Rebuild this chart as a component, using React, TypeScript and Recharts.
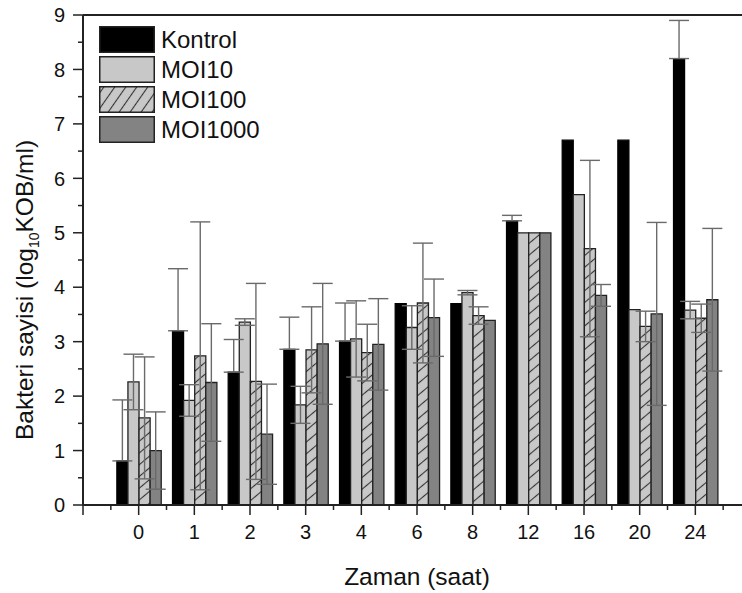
import { BarChart, Bar, XAxis, YAxis, ErrorBar, ReferenceLine, Legend } from 'recharts'

// sampling times (saat)
const times = ['0', '1', '2', '3', '4', '6', '8', '12', '16', '20', '24']

const kontrol = [0.81, 3.2, 2.44, 2.86, 3.01, 3.7, 3.7, 5.22, 6.7, 6.7, 8.2]
const kontrolErr = [1.12, 1.14, 0.6, 0.59, 0.7, 0, 0, 0.1, 0, 0, 0.7]

const moi10 = [2.26, 1.92, 3.36, 1.84, 3.05, 3.26, 3.9, 5.0, 5.7, 3.59, 3.58]
const moi10Err = [0.51, 0.29, 0.06, 0.34, 0.7, 0.4, 0.04, 0, 0, 0, 0.16]

const moi100 = [1.6, 2.74, 2.27, 2.85, 2.8, 3.71, 3.48, 5.0, 4.71, 3.28, 3.43]
const moi100Err = [1.12, 2.46, 1.8, 0.79, 0.52, 1.1, 0.16, 0, 1.62, 0.28, 0.26]

const moi1000 = [1.0, 2.25, 1.3, 2.96, 2.95, 3.44, 3.39, 5.0, 3.85, 3.51, 3.77]
const moi1000Err = [0.71, 1.08, 0.92, 1.11, 0.84, 0.71, 0, 0, 0.2, 1.68, 1.31]

const yTicks = [0, 0.5, 1, 1.5, 2, 2.5, 3, 3.5, 4, 4.5, 5, 5.5, 6, 6.5, 7, 7.5, 8, 8.5, 9]

const FONT = '"Liberation Sans", Arial, Helvetica, sans-serif'
const CHART_W = 760
const CHART_H = 593
const MARGIN = { top: 15, right: 9, left: 0, bottom: 0 }
const Y_AXIS_W = 83
const X_AXIS_H = 88
const PLOT_W = CHART_W - MARGIN.left - MARGIN.right - Y_AXIS_W
// origin style axis runs one step past the first and last group
const STEP = PLOT_W / (times.length + 1)

const LIGHT = '#c8c8c8'
const MID = '#838383'
const EDGE = '#222'
const ERR = '#6a6a6a'

const data = times.map((t, i) => ({
  time: t,
  kontrol: kontrol[i],
  // control only shows the upper half of its error bar
  kontrolErr: kontrolErr[i] ? [0, kontrolErr[i]] : 0,
  moi10: moi10[i],
  moi10Err: moi10Err[i],
  moi100: moi100[i],
  moi100Err: moi100Err[i],
  moi1000: moi1000[i],
  moi1000Err: moi1000Err[i],
}))

const legendItems = [
  { name: 'Kontrol', fill: '#000' },
  { name: 'MOI10', fill: LIGHT },
  { name: 'MOI100', fill: 'url(#hatchLegend)' },
  { name: 'MOI1000', fill: MID },
]

function XTick({ x, y, payload, index }: any) {
  const i = index ?? payload.index
  const last = i === times.length - 1
  return (
    <g>
      <g stroke={EDGE} strokeWidth={1.5}>
        <line x1={x} y1={y} x2={x} y2={y + 10} />
        <line x1={x - STEP / 2} y1={y} x2={x - STEP / 2} y2={y + 5} />
        {i === 0 && <line x1={x - STEP} y1={y} x2={x - STEP} y2={y + 10} />}
        {last && <line x1={x + STEP / 2} y1={y} x2={x + STEP / 2} y2={y + 5} />}
        {last && <line x1={x + STEP} y1={y} x2={x + STEP} y2={y + 10} />}
      </g>
      <text x={x} y={y + 34} textAnchor="middle" fontSize={20} fontFamily={FONT} fill="#111">
        {payload.value}
      </text>
    </g>
  )
}

function YTick({ x, y, payload }: any) {
  const major = Number.isInteger(payload.value)
  return (
    <g>
      <line x1={x - (major ? 10 : 5)} y1={y} x2={x} y2={y} stroke={EDGE} strokeWidth={1.5} />
      {major && (
        <text x={x - 18} y={y} dy="0.36em" textAnchor="end" fontSize={20} fontFamily={FONT} fill="#111">
          {payload.value}
        </text>
      )}
    </g>
  )
}

function LegendBox() {
  return (
    <div style={{ fontFamily: FONT }}>
      {legendItems.map((it) => (
        <div key={it.name} style={{ display: 'flex', alignItems: 'center', height: 27, marginBottom: 3 }}>
          <svg width={56} height={27} style={{ display: 'block' }}>
            <defs>
              <pattern id="hatchLegend" patternUnits="userSpaceOnUse" width={9} height={9} patternTransform="rotate(35)">
                <rect width={9} height={9} fill={LIGHT} />
                <line x1={4.5} y1={0} x2={4.5} y2={9} stroke="#333" strokeWidth={1.1} />
              </pattern>
            </defs>
            <rect x={0.75} y={0.75} width={54.5} height={25.5} fill={it.fill} stroke={EDGE} strokeWidth={1.5} />
          </svg>
          <span style={{ marginLeft: 6, fontSize: 24, color: '#111', lineHeight: '27px' }}>{it.name}</span>
        </div>
      ))}
    </div>
  )
}

export default function App() {
  return (
    <div style={{ position: 'absolute', left: 0, top: 0, width: 742, height: 593, overflow: 'hidden', background: '#fff' }}>
      <BarChart width={CHART_W} height={CHART_H} data={data} margin={MARGIN} barSize={11.1} barGap={0}>
        <defs>
          <pattern id="hatchBar" patternUnits="userSpaceOnUse" width={9} height={9} patternTransform="rotate(50)">
            <rect width={9} height={9} fill={LIGHT} />
            <line x1={4.5} y1={0} x2={4.5} y2={9} stroke="#333" strokeWidth={1.1} />
          </pattern>
        </defs>
        <XAxis
          dataKey="time"
          height={X_AXIS_H}
          padding={{ left: STEP / 2, right: STEP / 2 }}
          axisLine={{ stroke: EDGE, strokeWidth: 2 }}
          tickLine={false}
          tickSize={0}
          tickMargin={0}
          interval={0}
          tick={<XTick />}
          label={{
            content: () => (
              <text x={MARGIN.left + Y_AXIS_W + PLOT_W / 2} y={585} textAnchor="middle" fontSize={24.5} fontFamily={FONT} fill="#111">
                Zaman (saat)
              </text>
            ),
          }}
        />
        <YAxis
          width={Y_AXIS_W}
          domain={[0, 9]}
          ticks={yTicks}
          interval={0}
          axisLine={{ stroke: EDGE, strokeWidth: 2 }}
          tickLine={false}
          tickSize={0}
          tickMargin={0}
          tick={<YTick />}
          label={{
            content: () => (
              <text transform="translate(33, 290) rotate(-90)" textAnchor="middle" fontSize={24.5} fontFamily={FONT} fill="#111">
                Bakteri sayisi (log
                <tspan dy={6} fontSize={14}>10</tspan>
                <tspan dy={-6}>KOB/ml)</tspan>
              </text>
            ),
          }}
        />
        <ReferenceLine y={9} stroke={EDGE} strokeWidth={2} />
        <Legend
          layout="vertical"
          align="center"
          verticalAlign="middle"
          content={<LegendBox />}
          wrapperStyle={{ left: 99, top: 26, width: 'auto', height: 'auto' }}
        />
        <Bar dataKey="kontrol" name="Kontrol" fill="#000" stroke="#000" strokeWidth={1.2} isAnimationActive={false}>
          <ErrorBar dataKey="kontrolErr" width={10} stroke={ERR} strokeWidth={1.4} />
        </Bar>
        <Bar dataKey="moi10" name="MOI10" fill={LIGHT} stroke={EDGE} strokeWidth={1.3} isAnimationActive={false}>
          <ErrorBar dataKey="moi10Err" width={10} stroke={ERR} strokeWidth={1.4} />
        </Bar>
        <Bar dataKey="moi100" name="MOI100" fill="url(#hatchBar)" stroke={EDGE} strokeWidth={1.3} isAnimationActive={false}>
          <ErrorBar dataKey="moi100Err" width={10} stroke={ERR} strokeWidth={1.4} />
        </Bar>
        <Bar dataKey="moi1000" name="MOI1000" fill={MID} stroke={EDGE} strokeWidth={1.3} isAnimationActive={false}>
          <ErrorBar dataKey="moi1000Err" width={10} stroke={ERR} strokeWidth={1.4} />
        </Bar>
      </BarChart>
    </div>
  )
}
